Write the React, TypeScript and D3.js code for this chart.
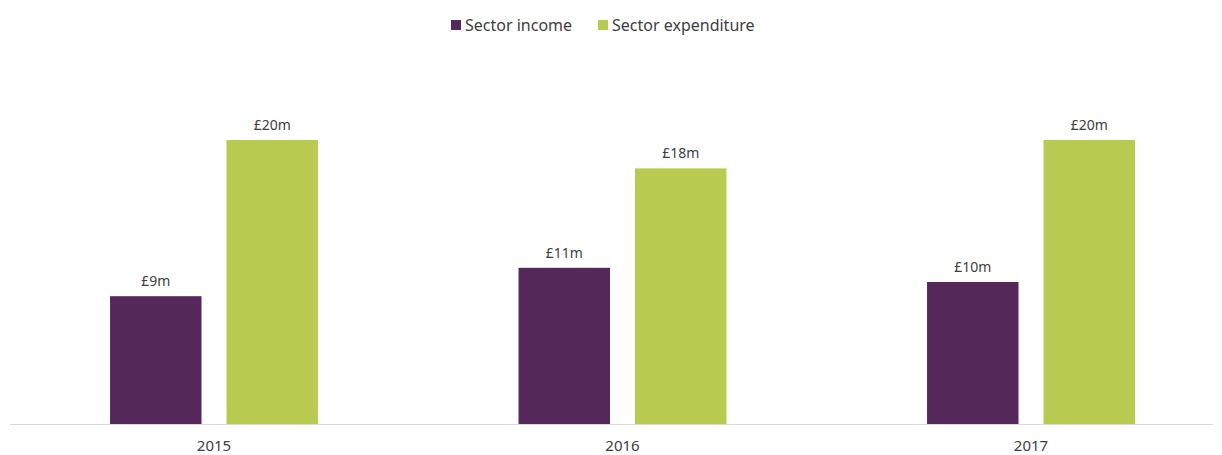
import React from "react";
import * as d3 from "d3";

const years = ["2015", "2016", "2017"];
const seriesNames = ["Sector income", "Sector expenditure"];
const income = [9, 11, 10];
const expenditure = [20, 18, 20];
const colors = ["#54295A", "#B8CB50"];

const W = 1222;
const H = 455;
const FONT = "'Noto Sans', 'Open Sans', sans-serif";

export default function App() {
  const x0 = d3
    .scaleBand<string>()
    .domain(years)
    .range([9.75, 1235.25])
    .paddingInner(0.491)
    .paddingOuter(0.2455);
  const x1 = d3
    .scaleBand<string>()
    .domain(seriesNames)
    .range([0, x0.bandwidth()])
    .paddingInner(0.2146)
    .paddingOuter(0);
  const y = d3.scaleLinear().domain([0, 20]).range([424, 140]);
  const values = [income, expenditure];

  const legendItems = [
    { name: seriesNames[0], x: 451 },
    { name: seriesNames[1], x: 598 },
  ];

  return (
    <svg
      width={W}
      height={H}
      style={{ position: "absolute", left: 0, top: 0, background: "#fff" }}
      fontFamily={FONT}
    >
      {legendItems.map((l, i) => (
        <g key={l.name}>
          <rect x={l.x} y={20} width={10} height={10} fill={colors[i]} />
          <text x={l.x + 14} y={30.5} fontSize={16} fill="#404040">
            {l.name}
          </text>
        </g>
      ))}
      {years.map((yr, i) => (
        <g key={yr} transform={`translate(${x0(yr)},0)`}>
          {seriesNames.map((s, j) => {
            const v = values[j][i];
            const bx = x1(s)!;
            return (
              <g key={s}>
                <rect
                  x={bx}
                  y={y(v)}
                  width={x1.bandwidth()}
                  height={y(0) - y(v)}
                  fill={colors[j]}
                />
                <text
                  x={bx + x1.bandwidth() / 2}
                  y={y(v) - 10}
                  textAnchor="middle"
                  fontSize={14}
                  fill="#404040"
                >
                  {`£${v}m`}
                </text>
              </g>
            );
          })}
        </g>
      ))}
      <line x1={10} x2={1213} y1={424.5} y2={424.5} stroke="#D9D9D9" strokeWidth={1} />
      {years.map((yr) => (
        <text
          key={yr}
          x={x0(yr)! + x0.bandwidth() / 2}
          y={450.5}
          textAnchor="middle"
          fontSize={15}
          fill="#404040"
        >
          {yr}
        </text>
      ))}
    </svg>
  );
}
